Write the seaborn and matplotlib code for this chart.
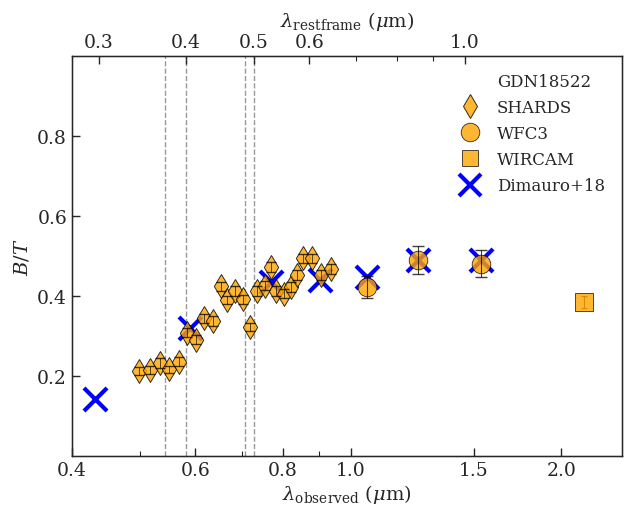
import numpy as np
import pandas as pd
import matplotlib
matplotlib.use("Agg")
import matplotlib.pyplot as plt
from matplotlib.lines import Line2D
import seaborn as sns

# ---------------- data ----------------
redshift = 0.455
rest_lines = [0.3727, 0.4000, 0.4861, 0.5007]

shards_wave = [0.499, 0.5175, 0.535, 0.550, 0.568, 0.5845, 0.602, 0.618, 0.637,
               0.653, 0.667, 0.6845, 0.7015, 0.719, 0.736, 0.755, 0.770, 0.783,
               0.804, 0.823, 0.838, 0.854, 0.881, 0.907, 0.938]
shards_bt = [0.213, 0.216, 0.232, 0.217, 0.236, 0.308, 0.291, 0.344, 0.338,
             0.424, 0.390, 0.412, 0.392, 0.323, 0.412, 0.426, 0.472, 0.413,
             0.406, 0.423, 0.453, 0.494, 0.494, 0.452, 0.468]
shards_err = [0.010, 0.010, 0.012, 0.009, 0.012, 0.011, 0.012, 0.012, 0.012,
              0.012, 0.011, 0.012, 0.011, 0.010, 0.012, 0.012, 0.012, 0.012,
              0.011, 0.012, 0.012, 0.012, 0.012, 0.012, 0.012]

wfc3_wave = [1.054, 1.247, 1.536]
wfc3_bt = [0.4225, 0.489, 0.481]
wfc3_err = [0.028, 0.035, 0.034]

wircam_wave = [2.152]
wircam_bt = [0.385]
wircam_err = [0.014]

dim_wave = [0.432, 0.590, 0.770, 0.904, 1.054, 1.247, 1.536]
dim_bt = [0.1435, 0.3205, 0.435, 0.439, 0.4475, 0.489, 0.491]

obs_ticks = [0.4, 0.6, 0.8, 1.0, 1.5, 2.0]
obs_minor = [0.5, 0.7, 0.9]
rest_ticks = [0.3, 0.4, 0.5, 0.6, 1.0]
rest_minor = [0.7, 0.8, 0.9]
y_ticks = [0.2, 0.4, 0.6, 0.8]

# ---------------- style ----------------
sns.set_style("ticks")
plt.rcParams["font.family"] = ["DejaVu Serif"]
plt.rcParams["mathtext.fontset"] = "dejavuserif"

fig = plt.figure(figsize=(6.27, 5.06), dpi=100)
ax = fig.add_axes([0.1148, 0.0968, 0.877, 0.7905])

ax.set_xscale("log")
ax.set_xlim(0.4, 2.44)
ax.set_ylim(0.0, 1.0)

for lr in rest_lines:
    ax.axvline(lr * (1 + redshift), color="0.6", ls="--", lw=1.0, zorder=0)

face = "orange"
alpha = 0.8

# Dimauro crosses (below)
sns.scatterplot(x=dim_wave, y=dim_bt, marker="x", color="blue", s=275,
                linewidth=3, ax=ax, zorder=2, legend=False)

# SHARDS
sns.scatterplot(x=shards_wave, y=shards_bt, marker="d", color=face, s=148,
                edgecolor="k", linewidth=0.7, alpha=alpha, ax=ax, zorder=3,
                legend=False)
ax.errorbar(shards_wave, shards_bt, yerr=shards_err, fmt="none", ecolor="k",
            elinewidth=0.6, capsize=3.5, capthick=1.0, alpha=0.75, zorder=4)

# WFC3
sns.scatterplot(x=wfc3_wave, y=wfc3_bt, marker="o", color=face, s=180,
                edgecolor="k", linewidth=0.6, alpha=alpha, ax=ax, zorder=3,
                legend=False)
ax.errorbar(wfc3_wave, wfc3_bt, yerr=wfc3_err, fmt="none", ecolor="k",
            elinewidth=0.8, capsize=4, capthick=1.0, alpha=0.75, zorder=4)

# WIRCAM
sns.scatterplot(x=wircam_wave, y=wircam_bt, marker="s", color=face, s=150,
                edgecolor="k", linewidth=0.6, alpha=alpha, ax=ax, zorder=3,
                legend=False)
ax.errorbar(wircam_wave, wircam_bt, yerr=wircam_err, fmt="none",
            ecolor="#d98c00", elinewidth=0.8, capsize=2.5, capthick=0.8,
            zorder=4)

# axes ticks
ax.xaxis.set_major_locator(matplotlib.ticker.FixedLocator(obs_ticks))
ax.xaxis.set_minor_locator(matplotlib.ticker.FixedLocator(obs_minor))
ax.set_xticklabels([f"{t:.1f}" for t in obs_ticks])
ax.xaxis.set_minor_formatter(matplotlib.ticker.NullFormatter())
ax.set_yticks(y_ticks)
ax.set_yticklabels([f"{t:.1f}" for t in y_ticks])
ax.tick_params(which="major", direction="in", length=6, width=1.0,
               labelsize=13.5, top=False, right=False)
ax.tick_params(which="minor", direction="in", length=3.5, width=0.8,
               top=False, right=False)
for sp in ax.spines.values():
    sp.set_linewidth(1.0)
    sp.set_color("k")

ax.set_xlabel(r"$\lambda_{\rm observed}$ ($\mu$m)", fontsize=14, labelpad=2)
ax.set_ylabel(r"$B/T$", fontsize=14)

# top axis (rest frame)
ax2 = ax.twiny()
ax2.set_xscale("log")
ax2.set_xlim(ax.get_xlim())
ax2.xaxis.set_major_locator(matplotlib.ticker.FixedLocator(
    [r * (1 + redshift) for r in rest_ticks]))
ax2.xaxis.set_minor_locator(matplotlib.ticker.FixedLocator(
    [r * (1 + redshift) for r in rest_minor]))
ax2.set_xticklabels([f"{r:.1f}" for r in rest_ticks])
ax2.xaxis.set_minor_formatter(matplotlib.ticker.NullFormatter())
ax2.tick_params(which="major", direction="in", length=6, width=1.0,
                labelsize=13.5)
ax2.tick_params(which="minor", direction="in", length=3.5, width=0.8)
ax2.set_xlabel(r"$\lambda_{\rm restframe}$ ($\mu$m)", fontsize=14, labelpad=5)

# legend
handles = [
    Line2D([], [], ls="none", marker="none"),
    Line2D([], [], ls="none", marker="d", ms=12.2, mfc=face, mec="k",
           mew=0.7, alpha=alpha),
    Line2D([], [], ls="none", marker="o", ms=13.4, mfc=face, mec="k",
           mew=0.6, alpha=alpha),
    Line2D([], [], ls="none", marker="s", ms=12, mfc=face, mec="k",
           mew=0.6, alpha=alpha),
    Line2D([], [], ls="none", marker="x", ms=16.5, color="blue", mew=3),
]
labels = ["GDN18522", "SHARDS", "WFC3", "WIRCAM", "Dimauro+18"]
ax.legend(handles, labels, loc="upper right", frameon=False, fontsize=12,
          labelspacing=0.55, handletextpad=0.6, borderaxespad=0.6)

fig.savefig("out.png", dpi=100)
